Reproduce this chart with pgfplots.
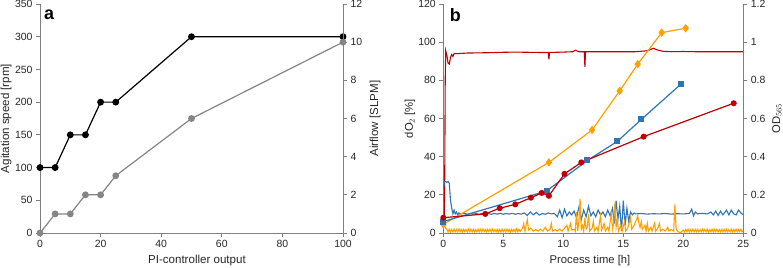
\documentclass[border=0pt]{standalone}
\usepackage{fontspec}
\setmainfont{Liberation Sans}
\usepackage{pgfplots}
\pgfplotsset{compat=1.18}
\definecolor{axgray}{HTML}{7F7F7F}
\definecolor{serA}{HTML}{858585}
\definecolor{dred}{HTML}{C00000}
\definecolor{dblue}{HTML}{2E75B6}
\definecolor{dorange}{HTML}{FFA000}
\pgfplotsset{
  base/.style={scale only axis, height=229bp,
    /pgf/number format/assume math mode=true,
    tick label style={font=\fontsize{10.5}{12}\selectfont, text=black!85},
    label style={font=\fontsize{11.3}{13}\selectfont, text=black!85},
    axis line style={axgray, line width=0.9bp},
    major tick style={axgray, line width=0.9bp},
    tick align=outside, major tick length=4bp,
  }
}
\begin{document}
\begin{tikzpicture}
\path[use as bounding box] (0,0) rectangle (783bp,268bp);
% ---------- panel a ----------
\begin{axis}[base, at={(40bp,35bp)}, anchor=south west, width=303bp,
  xmin=0, xmax=100, ymin=0, ymax=350,
  xtick={0,20,...,100}, ytick={0,50,...,350},
  axis y line*=left, axis x line*=bottom,
  xlabel={PI-controller output}, ylabel={Agitation speed [rpm]},
  label style={font=\fontsize{11.6}{13}\selectfont},
  xlabel style={at={(axis description cs:0.518,-0.122)}, anchor=center},
  ylabel style={at={(axis description cs:-0.112,0.5)}, anchor=center},
  clip=false]
\addplot[black, line width=1.2bp, mark=*, mark size=2.8bp] coordinates {
 (0,100) (5,100) (10,150) (15,150) (20,200) (25,200) (50,300) (100,300)};
\node[font=\bfseries\fontsize{18}{18}\selectfont, anchor=center] at (rel axis cs:0.03,0.955) {a};
\end{axis}
\begin{axis}[base, at={(40bp,35bp)}, anchor=south west, width=303bp,
  xmin=0, xmax=100, ymin=0, ymax=12,
  ytick={0,2,...,12},
  axis y line*=right, axis x line=none,
  ylabel={Airflow [SLPM]},
  label style={font=\fontsize{11.6}{13}\selectfont},
  ylabel style={at={(axis description cs:1.106,0.5)}, anchor=center},
  clip=false]
\addplot[serA, line width=1.2bp, mark=*, mark size=2.8bp] coordinates {
 (0,0) (5,1) (10,1) (15,2) (20,2) (25,3) (50,6) (100,10)};
\end{axis}
% ---------- panel b ----------
\begin{axis}[base, at={(443.3bp,35bp)}, anchor=south west, width=300bp,
  xmin=0, xmax=25, ymin=0, ymax=120,
  xtick={0,5,...,25}, ytick={0,20,...,120},
  axis y line*=left, axis x line*=bottom,
  xlabel={Process time [h]}, ylabel={dO$_2$ [\%]},
  xlabel style={at={(axis description cs:0.489,-0.122)}, anchor=center},
  ylabel style={at={(axis description cs:-0.111,0.5)}, anchor=center}]
\addplot[dred, line width=1.1bp] coordinates {
 (0.08,8) (0.12,30) (0.16,80) (0.2,95.5) (0.3,93) (0.4,89) (0.5,88.5) (0.6,92)
 (0.7,93.5) (0.8,92.5) (0.9,94) (1.2,94) (2,94.3) (3,94.4) (4,94.5) (5,94.7)
 (6,94.8) (7,94.7) (8,94.6) (8.75,94.6) (8.8,91) (8.85,94.6) (10,94.8) (10.8,95)
 (11.0,95.8) (11.3,95) (11.75,95) (11.8,87) (11.85,95) (13,95) (14,95) (15,95)
 (16,95) (17,95.5) (17.5,96.8) (17.8,96) (18.3,95.2) (19,95) (20,95.1) (21,95)
 (22,95) (23,95) (24,95) (25,95)};
\addplot[dblue, line width=1.1bp] coordinates {
 (0,23) (0.1,27) (0.2,27) (0.3,26.5) (0.4,27) (0.5,26) (0.6,17) (0.7,13) (0.8,10)
 (0.9,12) (1.0,10) (1.1,11) (1.2,9.5) (1.3,10.5) (1.4,10) (1.75,10.3) (2.0,9.8)
 (2.25,10.3) (2.5,9.9) (2.75,10.2) (3.0,9.8) (3.25,10.3) (3.5,9.9) (3.75,10.2)
 (4.0,9.8) (4.25,10.2) (4.5,9.9) (4.75,10.3) (5.0,9.8) (5.25,10.2) (5.5,9.9)
 (5.75,10.3) (6.0,9.8) (6.25,10.2) (6.5,9.9) (6.75,10.5) (7.0,9.2) (7.25,11)
 (7.5,9.5) (7.75,10.8) (8.0,9.4) (8.25,10.2) (8.5,9.8) (8.75,10.5) (9.0,10)
 (9.25,10.3) (9.5,8.5) (9.7,12) (9.9,8) (10.1,12.5) (10.3,9) (10.5,11) (10.7,9.5)
 (10.9,11.5) (11.1,8) (11.3,13.5) (11.5,7) (11.7,12) (11.9,8.5) (12.1,14) (12.3,9)
 (12.5,11) (12.7,8.5) (12.9,12) (13.1,9.5) (13.3,11) (13.5,8.5) (13.7,12) (13.9,9)
 (14.1,13) (14.25,5) (14.4,17) (14.55,7) (14.7,14) (14.85,1) (15.0,17) (15.15,4)
 (15.3,13) (15.45,6) (15.6,11) (15.75,9.5) (15.9,10.5) (16.0,10) (16.5,10.2)
 (17,9.9) (17.5,10.1) (18,10) (18.5,10.2) (19,9.9) (19.5,10.1) (20,10) (20.5,10.2)
 (20.7,12.5) (20.85,9) (21.0,11) (21.2,10) (21.5,10.3) (22,10) (22.3,11) (22.5,9.5)
 (22.7,11.5) (22.9,9.2) (23.1,11.5) (23.3,9.5) (23.6,12) (23.8,9.5) (24.0,12)
 (24.2,10) (24.4,9.5) (24.6,12) (24.8,10.5) (25,9.5)};
\addplot[dorange, line width=1.1bp] coordinates {
 (0,5) (0.1,4) (0.2,2.5) (0.3,1.8) (0.4,0.6) (0.5,2) (0.6,0.6) (0.7,1.9) (0.8,0.6)
 (0.9,2) (1.0,0.7) (1.1,1.9) (1.2,0.6) (1.3,2) (1.4,0.7) (1.5,1.9) (1.6,0.6)
 (1.7,2) (1.8,0.7) (1.9,1.8) (2.0,0.6) (2.1,2) (2.2,0.7) (2.3,1.9) (2.4,0.6)
 (2.5,2) (2.6,0.7) (2.7,1.8) (2.8,0.6) (2.9,2) (3.0,0.7) (3.1,1.9) (3.2,0.6)
 (3.3,2) (3.4,0.7) (3.5,1.8) (3.6,0.6) (3.7,2) (3.8,0.7) (3.9,1.9) (4.0,0.6)
 (4.1,2) (4.2,0.7) (4.3,1.8) (4.4,0.6) (4.5,2) (4.6,0.7) (4.7,1.9) (4.8,0.6)
 (4.9,2) (5.0,0.7) (5.1,1.8) (5.2,0.6) (5.3,2) (5.4,0.7) (5.5,1.9) (5.6,0.6)
 (5.7,2) (5.8,0.7) (5.9,1.8) (6.0,0.6) (6.1,2.2) (6.2,0.7) (6.3,1.9) (6.4,0.8)
 (6.6,2.5) (6.7,5) (6.8,1) (7.0,7) (7.1,1.5) (7.3,2.5) (7.5,1)
 (7.7,1.8) (7.9,1) (8.1,2) (8.3,1) (8.5,3) (8.7,1) (8.9,2) (9.0,5) (9.1,1) (9.3,1.8)
 (9.5,1) (9.7,2) (9.9,1) (10.1,2.5) (10.3,4) (10.4,1) (10.6,5) (10.7,1.5) (10.9,2)
 (11.0,1) (11.1,11) (11.2,1) (11.3,6) (11.4,18) (11.5,2) (11.6,4) (11.7,1) (11.8,8)
 (11.9,2) (12.0,3) (12.1,10) (12.2,1) (12.4,2.5) (12.5,6) (12.6,1) (12.8,3) (12.9,1)
 (13.1,9) (13.2,1.5) (13.4,5) (13.5,1) (13.7,3) (13.8,1) (14.0,10) (14.1,2) (14.2,5)
 (14.3,16) (14.4,3) (14.5,7) (14.6,1) (14.8,4) (14.9,1) (15.1,6) (15.2,1) (15.4,3)
 (15.6,8) (15.7,2) (15.9,4) (16.1,7) (16.2,9) (16.3,5) (16.4,3) (16.5,6) (16.6,2)
 (16.8,4) (16.9,1) (17.0,5) (17.1,1) (17.3,3) (17.4,1) (17.6,5) (17.7,1) (17.9,3)
 (18.0,5) (18.1,1) (18.3,2) (18.5,1) (18.7,3) (18.8,1) (19.0,1.8) (19.2,1) (19.3,15)
 (19.4,2) (19.6,0.5) (19.8,0.3) (20.0,1.5) (20.1,0.6) (20.2,1.9) (20.3,0.7)
 (20.4,2) (20.5,0.6) (20.6,1.8) (20.7,0.7) (20.8,2) (20.9,0.6) (21.0,1.9) (21.1,0.7)
 (21.2,2) (21.3,0.6) (21.4,1.8) (21.5,0.7) (21.6,2) (21.7,0.6) (21.8,1.9) (21.9,0.7)
 (22.0,2) (22.1,0.6) (22.2,1.8) (22.3,0.7) (22.4,2) (22.5,0.6) (22.6,1.9) (22.7,0.7)
 (22.8,2) (22.9,0.6) (23.0,1.8) (23.1,0.7) (23.2,2) (23.3,0.6) (23.4,1.9) (23.5,0.7)
 (23.6,2) (23.7,0.6) (23.8,1.8) (23.9,0.7) (24.0,2) (24.1,0.6) (24.2,1.9) (24.3,0.7)
 (24.4,2) (24.5,0.6) (24.6,1.8) (24.7,0.7) (24.8,2) (24.9,0.6) (25,1.2)};
\node[font=\bfseries\fontsize{18}{18}\selectfont, anchor=center] at (rel axis cs:0.04,0.95) {b};
\end{axis}
\begin{axis}[base, at={(443.3bp,35bp)}, anchor=south west, width=300bp,
  xmin=0, xmax=25, ymin=0, ymax=1.2,
  ytick={0,0.2,0.4,0.6,0.8,1,1.2},
  axis y line*=right, axis x line=none,
  ylabel={OD$_{565}$},
  ylabel style={at={(axis description cs:1.112,0.5)}, anchor=center},
  clip=false]
\addplot[dorange, line width=1.2bp, mark=diamond*, mark size=3.3bp] coordinates {
 (0,0.045) (8.8,0.37) (12.4,0.54) (14.7,0.745) (16.2,0.885) (18.2,1.05) (20.2,1.073)};
\addplot[dblue, line width=1.2bp, mark=square*, mark size=2.4bp] coordinates {
 (0,0.06) (8.6,0.22) (12,0.38) (14.5,0.48) (16.5,0.595) (19.8,0.78)};
\addplot[dred, line width=1.2bp, mark=*, mark size=2.4bp] coordinates {
 (0,0.08) (3.5,0.10) (4.7,0.13) (6,0.15) (7.3,0.185) (8.2,0.21) (8.8,0.195)
 (10.1,0.31) (11.5,0.37) (16.7,0.505) (24.2,0.68)};
\end{axis}
\end{tikzpicture}
\end{document}
